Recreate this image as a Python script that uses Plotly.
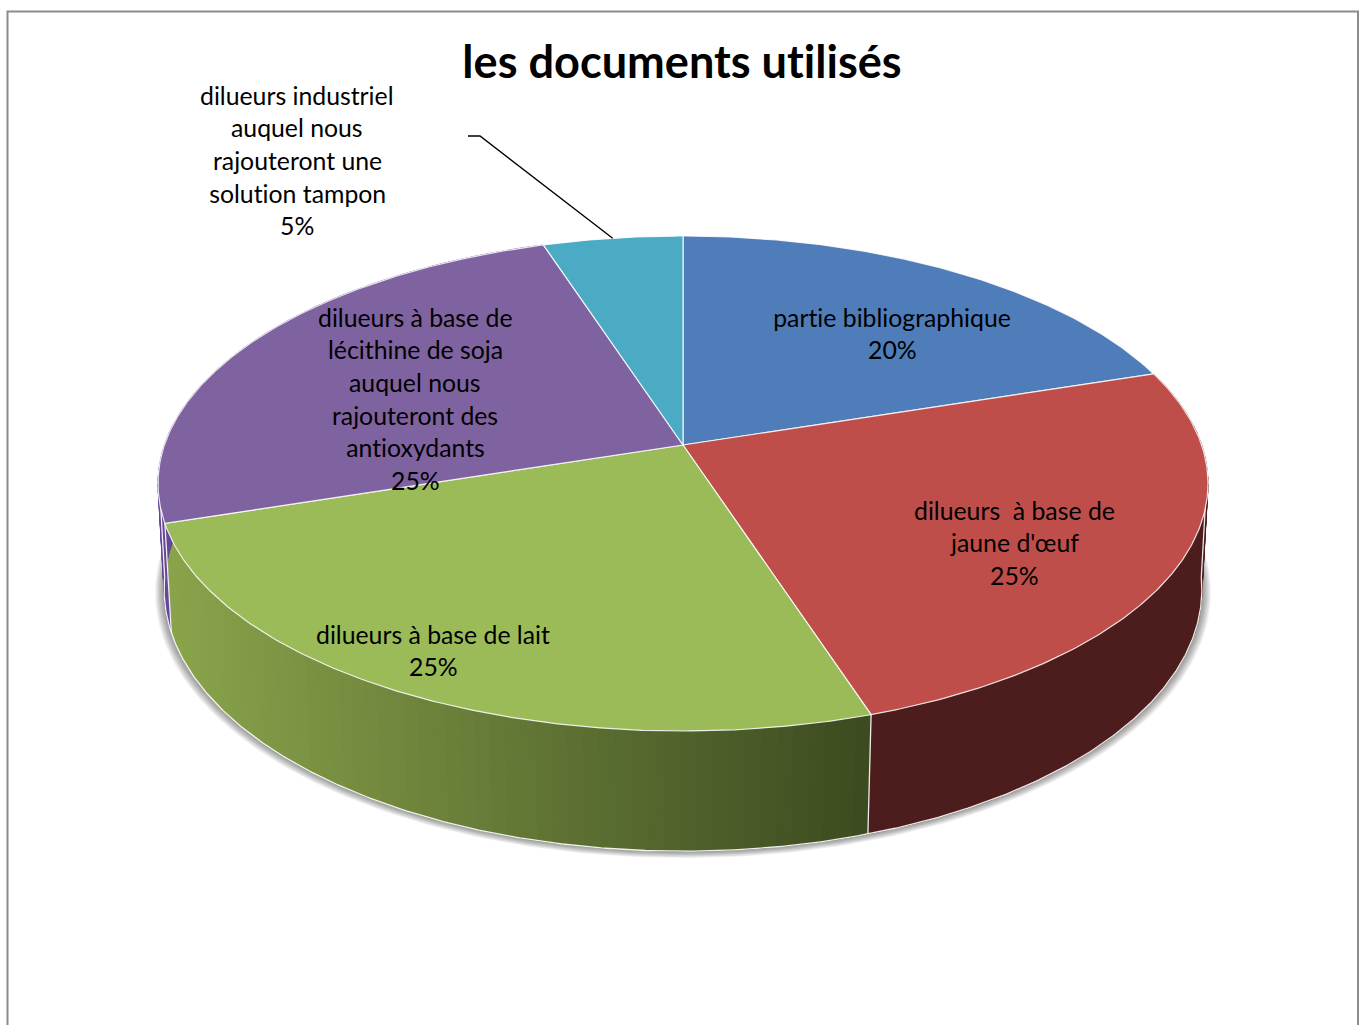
import numpy as np
import plotly.graph_objects as go

# Chart content
title_text = "les documents utilisés"
categories = [
    "partie bibliographique",
    "dilueurs \u00a0à base de jaune d'œuf",
    "dilueurs à base de lait",
    "dilueurs à base de lécithine de soja auquel nous rajouteront des antioxydants",
    "dilueurs industriel auquel nous rajouteront une solution tampon",
]
values = [20, 25, 25, 25, 5]
label_lines = [
    ["partie bibliographique"],
    ["dilueurs \u00a0à base de", "jaune d'œuf"],
    ["dilueurs à base de lait"],
    ["dilueurs à base de", "lécithine de soja", "auquel nous", "rajouteront des", "antioxydants"],
    ["dilueurs industriel", "auquel nous", "rajouteront une", "solution tampon"],
]

# Styling
top_colors = ["#4f7db9", "#bf4e4b", "#9bbb59", "#7f62a0", "#4baac4"]
wall_left = [(60, 25, 25), (76, 29, 28), (138, 164, 75), (100, 72, 150), (40, 90, 105)]
wall_right = [(60, 25, 25), (76, 29, 28), (60, 74, 32), (100, 72, 150), (40, 90, 105)]
label_x = [892, 1014, 433, 415, 297]
label_y = [317, 510, 634, 317, 95]
line_pitch = 32.7
label_font = "Lato"
label_size = 24.8
title_size = 45.1

# Perspective projection of the pie's top and bottom discs onto the page
apex = (683.0, 445.0)
top_disc = dict(cy=445.0, bx=518.6, ay=241.5, k=0.1556)
bottom_disc = dict(cy=550.0, bx=513.0, ay=256.0, k=0.15)
silhouette_right, silhouette_left = 96.0, 264.0


def project(disc, theta_deg, radius=1.0, grow=0.0):
    t = np.radians(theta_deg)
    px, py = radius * np.sin(t), radius * np.cos(t)
    w = 1 + disc["k"] * py
    return (
        apex[0] + (disc["bx"] + grow) * px / w,
        disc["cy"] - (disc["ay"] + grow * 0.4) * py / w,
    )


def hex_rgb(c):
    return "rgb" + str(tuple(c))


def polygon(x, y, fill, line_color=None, line_width=0, name=None):
    return go.Scatter(
        x=list(x), y=list(y), mode="lines", fill="toself", fillcolor=fill,
        line=dict(color=line_color or fill, width=line_width),
        showlegend=False, hoverinfo="skip" if name is None else "text",
        text=name,
    )


def seam(x, y):
    return go.Scatter(x=x, y=y, mode="lines",
                      line=dict(color="rgba(255,255,255,0.9)", width=1.3),
                      showlegend=False, hoverinfo="skip")


fracs = np.cumsum([0] + values) / sum(values) * 360.0
spans = list(zip(fracs[:-1], fracs[1:]))
fig = go.Figure()

# Soft shadow under the base
for d in range(9, 0, -1):
    ring = np.linspace(0, 360, 361)
    sx, sy = project(bottom_disc, ring, grow=d)
    fig.add_trace(polygon(sx, sy + d * 0.3, "rgba(0,0,0,0.05)"))

# Side walls, front-facing slices only, shaded left to right across the page
for i, (a, b) in enumerate(spans):
    if a >= 342 or b <= 72:
        continue
    n = max(int((b - a) / 1.5), 1)
    edges = np.linspace(a, b, n + 1)
    xa, xb = project(top_disc, a)[0], project(top_disc, b)[0]
    x_low, x_high = min(xa, xb), max(xa, xb)
    for j in range(n):
        th = np.linspace(edges[j], edges[j + 1], 3)
        tx, ty = project(top_disc, th)
        f = float(np.clip((tx[1] - x_low) / (x_high - x_low), 0, 1))
        col = tuple(int(round(s + (e - s) * f)) for s, e in zip(wall_left[i], wall_right[i]))
        bx, by = project(bottom_disc, th[::-1])
        fig.add_trace(polygon(np.r_[tx, bx, tx[0]], np.r_[ty, by, ty[0]], hex_rgb(col), line_width=1))

# White rim of the base, its two outer edges and the seams between walls
rx, ry = project(bottom_disc, np.linspace(silhouette_right, silhouette_left, 400))
fig.add_trace(seam(rx, ry))
seam_angles = [silhouette_right, silhouette_left] + [a for a, _ in spans if 72 < a < 300]
for a in seam_angles:
    x0, y0 = project(top_disc, a)
    x1, y1 = project(bottom_disc, a)
    fig.add_trace(seam([x0, x1], [y0, y1]))

# Top face of every slice
for i, (a, b) in enumerate(spans):
    th = np.linspace(a, b, int(b - a) * 2 + 1)
    x, y = project(top_disc, th)
    fig.add_trace(polygon(np.r_[apex[0], x, apex[0]], np.r_[apex[1], y, apex[1]], top_colors[i],
                          line_color="rgba(255,255,255,0.85)", line_width=1.2,
                          name=f"{categories[i]}: {values[i]}%"))

# Leader line of the smallest slice, ending at the middle of its arc
elbow_x, elbow_y, stub_x = 480.0, 136.0, 468.0
mid = (spans[4][0] + spans[4][1]) / 2
lx, ly = project(top_disc, mid)
fig.add_trace(go.Scatter(x=[stub_x, elbow_x, lx], y=[elbow_y, elbow_y, ly], mode="lines",
                         line=dict(color="black", width=1.4), showlegend=False, hoverinfo="skip"))

# Data labels, one annotation per line so the pitch stays exact
annotations = []
for i, lines in enumerate(label_lines):
    for n, txt in enumerate(lines + [f"{values[i]}%"]):
        annotations.append(dict(
            x=label_x[i], y=label_y[i] + n * line_pitch, xref="x", yref="y",
            text=txt, showarrow=False, xanchor="center", yanchor="middle",
            font=dict(family=label_font, size=label_size, color="black"),
        ))

fig.update_layout(
    width=1360, height=1025, autosize=False,
    margin=dict(l=0, r=0, t=0, b=0),
    paper_bgcolor="white", plot_bgcolor="white",
    title=dict(text=f"<b>{title_text}</b>", x=682 / 1360, y=1 - 62 / 1025,
               xanchor="center", yanchor="middle",
               font=dict(family=label_font, size=title_size, color="black")),
    xaxis=dict(range=[0, 1360], visible=False, fixedrange=True),
    yaxis=dict(range=[1025, 0], visible=False, fixedrange=True),
    annotations=annotations,
    shapes=[dict(type="path", xref="x", yref="y",
                 path="M 7.5 1030 L 7.5 11.5 L 1358 11.5 L 1358 1030",
                 line=dict(color="#8c8c8c", width=2))],
)

# Keep "ti" and similar pairs as separate glyphs
no_ligatures = (
    "var s=document.createElement('style');"
    "s.textContent='text{font-variant-ligatures:none !important}';"
    "document.head.appendChild(s);"
)
fig.write_html("out.html", config={"displayModeBar": False}, post_script=no_ligatures)
